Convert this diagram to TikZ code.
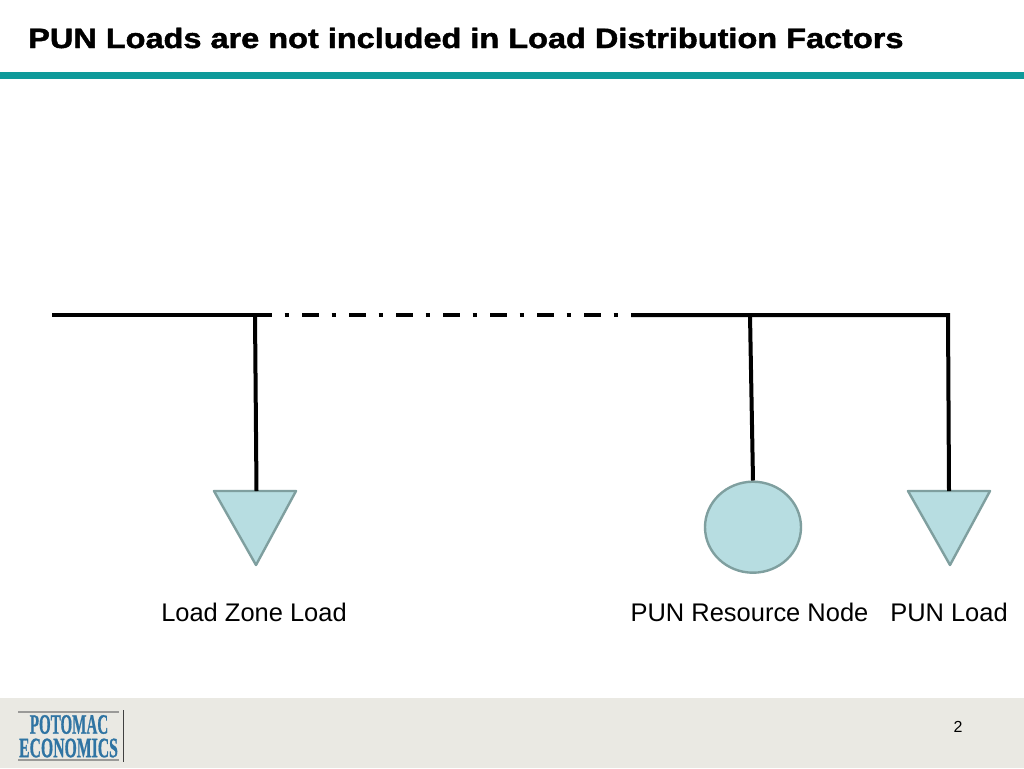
\documentclass[tikz,border=0pt]{standalone}
\usepackage{fontspec}
\setmainfont{Liberation Sans}
\newfontfamily\logofont[FakeBold=1]{Liberation Serif Bold}
\newfontfamily\titlefont[FakeBold=1.5]{Liberation Sans Bold}
\usetikzlibrary{shapes.geometric}
\definecolor{teal1}{HTML}{0E9A9A}
\definecolor{foot}{HTML}{EAE9E3}
\definecolor{fillb}{HTML}{B7DDE1}
\definecolor{edgeb}{HTML}{7F9F9F}
\definecolor{logob}{HTML}{2F74A3}
\tikzset{
 bus/.style={line width=3pt,black,line join=miter},
 busdash/.style={line width=3pt,black,dash pattern=on 3.5pt off 9.75pt on 12.75pt off 9.25pt},
 symbolshape/.style={draw=edgeb,fill=fillb,line width=1.8pt,line join=round},
 lbl/.style={font=\fontsize{19.1pt}{23pt}\selectfont,inner sep=0pt,anchor=center},
 logoline/.style={inner sep=0pt,text=logob,font=\logofont}
}
\begin{document}
\begin{tikzpicture}[x=0.75pt,y=-0.75pt]
\useasboundingbox (0,0) rectangle (1024,768);
\fill[white] (0,0) rectangle (1024,768);
\fill[foot] (0,698) rectangle (1024,768);
\fill[teal1] (0,72) rectangle (1024,79);
\node[inner sep=0pt,anchor=west,font=\fontsize{21pt}{25pt}\selectfont] (title) at (28,38) {\scalebox{1.16}[1]{\titlefont PUN Loads are not included in Load Distribution Factors}};
% bus
\coordinate (w) at (52,315);
\coordinate (j1) at (255,315);
\coordinate (e1) at (272,315);
\coordinate (d1) at (284.5,315);
\coordinate (e2) at (631,315);
\coordinate (j2) at (750,315);
\coordinate (j3) at (948,315);
\coordinate (s1) at (256.5,491);
\coordinate (s3) at (949,491);
\draw[bus] (w) -- (e1);
\draw[busdash] (d1) -- (e2);
% symbols
\coordinate (t1a) at (214,491); \coordinate (t1b) at (296,491); \coordinate (t1c) at (256,565);
\coordinate (t2a) at (908,491); \coordinate (t2b) at (990,491); \coordinate (t2c) at (950,565);
\draw[symbolshape] (t1a) -- (t1b) -- (t1c) -- cycle;
\draw[symbolshape] (t2a) -- (t2b) -- (t2c) -- cycle;
\node[ellipse,symbolshape,minimum width=72pt,minimum height=68.25pt,inner sep=0pt] (res) at (753,527.2) {};
% stems
\draw[bus] (j1) -- (s1);
\draw[bus] (j2) -- (res.north);
\draw[bus] (e2) -- (j3) -- (s3);
% labels
\node[lbl] (l1) at (254,612) {Load Zone Load};
\node[lbl] (l2) at (749.5,612) {PUN Resource Node};
\node[lbl] (l3) at (949,612) {PUN Load};
\node[inner sep=0pt,font=\fontsize{12pt}{14pt}\selectfont] (page) at (958,727) {2};
% logo
\fill[gray!75!foot] (18,711) rectangle (119,712.5);
\fill[gray!75!foot] (18,759) rectangle (119,760.5);
\fill[black!75] (122.5,710) rectangle (123.5,762);
\node[logoline] (logo1) at (69,724.5) {\scalebox{0.565}[1.05]{\fontsize{20pt}{20pt}\selectfont POTOMAC}};
\node[logoline] (logo2) at (68.5,748) {\scalebox{0.59}[1.05]{\fontsize{20pt}{20pt}\selectfont ECONOMICS}};
\end{tikzpicture}
\end{document}
